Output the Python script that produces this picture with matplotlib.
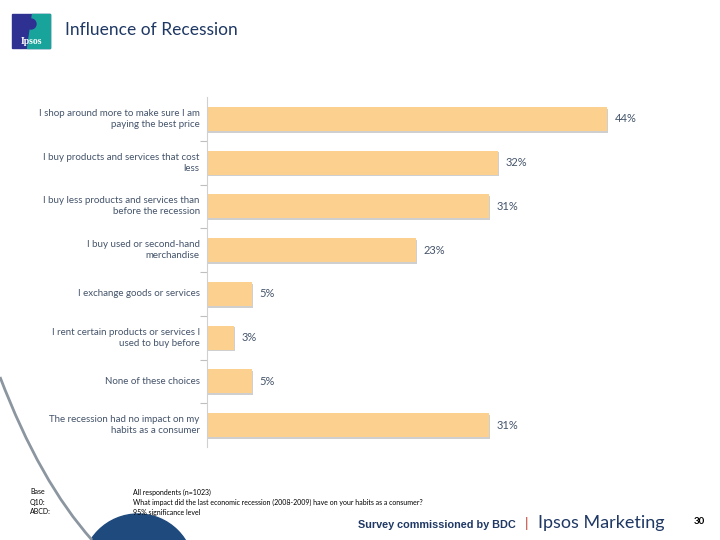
import matplotlib.pyplot as plt
from matplotlib.patches import Rectangle, Polygon, Circle, PathPatch
from matplotlib.path import Path

# survey answers, top to bottom
answers = [
    "I shop around more to make sure I am\npaying the best price",
    "I buy products and services that cost\nless",
    "I buy less products and services than\nbefore the recession",
    "I buy used or second-hand\nmerchandise",
    "I exchange goods or services",
    "I rent certain products or services I\nused to buy before",
    "None of these choices",
    "The recession had no impact on my\nhabits as a consumer",
]
pct = [44, 32, 31, 23, 5, 3, 5, 31]

base_text = ["Base", "Q10:", "ABCD:"]
base_desc = [
    "All respondents (n=1023)",
    "What impact did the last economic recession (2008-2009) have on your habits as a consumer?",
    "95% significance level",
]

W, H = 720, 540
fig = plt.figure(figsize=(7.2, 5.4), dpi=100)
plt.rcParams['font.family'] = ['Lato', 'DejaVu Sans']

def fx(px):
    return px / W

def fy(py):
    return 1 - py / H

lab_col = '#44546A'
navy = '#1F3864'

# background decorations: gray arc and navy half-circle
arc = Path([(fx(0), fy(377)), (fx(40), fy(482)), (fx(92), fy(540))],
           [Path.MOVETO, Path.CURVE3, Path.CURVE3])
fig.patches.append(PathPatch(arc, transform=fig.transFigure, fill=False,
                             edgecolor='#8C96A0', lw=2))
bg = fig.add_axes([0, 0, 1, 1], zorder=-1)
bg.set_xlim(0, W)
bg.set_ylim(H, 0)
bg.axis('off')
bg.add_patch(Circle((138, 570), 56, color='#1F4A7E'))

# logo
bg.add_patch(Rectangle((12, 14), 38, 34, color='#2E3192'))
bg.add_patch(Polygon([(32, 14), (50, 14), (50, 48), (27, 48)], color='#19A49B'))
bg.add_patch(Circle((31, 24), 5, color='#2E3192'))
bg.text(31, 41, "Ipsos", color='white', fontsize=7, fontweight='bold',
        ha='center', va='center', family='Liberation Serif')

fig.text(fx(65), fy(30), "Influence of Recession", fontsize=12.5,
         color=navy, va='center', ha='left')

# main chart
ax = fig.add_axes([fx(207), fy(447), fx(662) - fx(207), fy(97) - fy(447)])
y = list(range(len(answers)))
ax.barh([v + 0.04 for v in y], [p + 0.1 for p in pct], height=0.55,
        color='#CFCFCF', zorder=1)
ax.barh(y, pct, height=0.55, color='#FCD08E', zorder=2)
ax.set_xlim(0, 50)
ax.set_ylim(len(answers) - 0.5, -0.5)
ax.set_xticks([])
ax.set_yticks([v + 0.5 for v in y[:-1]])
ax.set_yticklabels([])
ax.tick_params(axis='y', length=5, color='#BFBFBF', direction='out')
for s in ['top', 'right', 'bottom']:
    ax.spines[s].set_visible(False)
ax.spines['left'].set_color('#D0D0D0')

for i, (a, p) in enumerate(zip(answers, pct)):
    ax.text(-0.8, i, a, ha='right', va='center', fontsize=7,
            color=lab_col, linespacing=1.3)
    ax.text(p + 0.8, i, f"{p}%", ha='left', va='center', fontsize=8,
            color=lab_col)

# footnotes
for i, (t, d) in enumerate(zip(base_text, base_desc)):
    fig.text(fx(30), fy(492 + 10 * i), t, fontsize=5, va='center', color='black')
    fig.text(fx(133), fy(492 + 10 * i), d, fontsize=5, va='center', color='black')

fig.text(fx(358), fy(525), "Survey commissioned by BDC", fontsize=7.8,
         fontweight='bold', color=navy, va='center', family='Liberation Sans')
fig.text(fx(525), fy(524), "|", fontsize=10, color='#C0392B', va='center')
fig.text(fx(538), fy(523), "Ipsos Marketing", fontsize=13, color=navy,
         va='center')
fig.text(fx(694), fy(522), "30", fontsize=7, fontweight='bold',
         color='black', va='center')

fig.savefig('out.png', dpi=100)
